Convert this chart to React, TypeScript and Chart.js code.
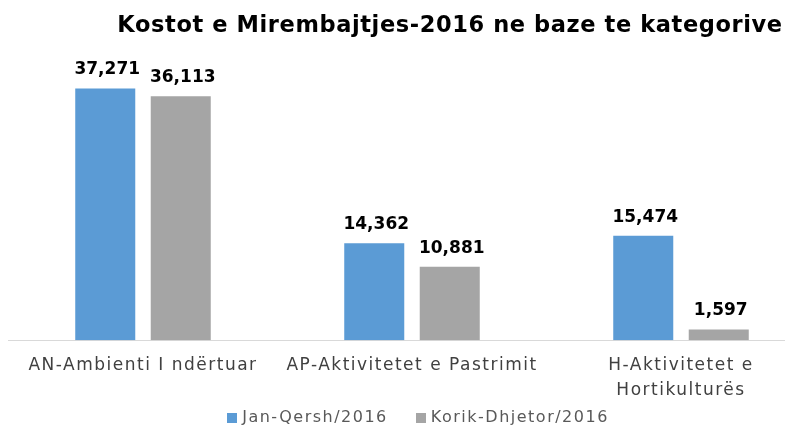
import React, { useEffect, useRef } from 'react';
import { Chart, registerables } from 'chart.js';

Chart.register(...registerables);

const TITLE = 'Kostot e Mirembajtjes-2016 ne baze te kategorive';
const categories: string[][] = [
  ['AN-Ambienti I ndërtuar'],
  ['AP-Aktivitetet e Pastrimit'],
  ['H-Aktivitetet e', 'Hortikulturës'],
];
const seriesNames = ['Jan-Qersh/2016', 'Korik-Dhjetor/2016'];
const janQersh = [37271, 14362, 15474];
const korikDhjetor = [36113, 10881, 1597];
const seriesColors = ['#5B9BD5', '#A5A5A5'];
const yMax = 40000;

const CANVAS_W = 824;
const CANVAS_H = 425;
const TITLE_CX = 450;
const TITLE_BASELINE = 32;
const LEGEND_CX = 418;
const LEGEND_CY = 418;

const spacingPlugin = {
  id: 'letterSpacingWide',
  beforeLayout(chart: any) {
    chart.ctx.letterSpacing = '1.5px';
  },
  beforeDraw(chart: any) {
    chart.ctx.letterSpacing = '1.5px';
  },
};

const titlePlugin = {
  id: 'customTitle',
  afterDraw(chart: any) {
    const ctx = chart.ctx;
    ctx.save();
    ctx.letterSpacing = '0.6px';
    ctx.font = 'bold 22.5px "DejaVu Sans"';
    ctx.fillStyle = '#000000';
    ctx.textAlign = 'center';
    ctx.textBaseline = 'alphabetic';
    ctx.fillText(TITLE, TITLE_CX, TITLE_BASELINE);
    ctx.restore();
  },
};

const legendPlugin = {
  id: 'customLegend',
  afterDraw(chart: any) {
    const ctx = chart.ctx;
    ctx.save();
    ctx.letterSpacing = '1.5px';
    ctx.font = '16px "DejaVu Sans"';
    const box = 10;
    const gapText = 5;
    const gapItems = 28;
    const items = chart.data.datasets.map((ds: any) => ({
      label: ds.label as string,
      color: ds.backgroundColor as string,
      w: ctx.measureText(ds.label).width as number,
    }));
    const total =
      items.reduce((s: number, it: any) => s + box + gapText + it.w, 0) +
      gapItems * (items.length - 1);
    let x = LEGEND_CX - total / 2;
    ctx.textAlign = 'left';
    ctx.textBaseline = 'middle';
    items.forEach((it: any) => {
      ctx.fillStyle = it.color;
      ctx.fillRect(Math.round(x), Math.round(LEGEND_CY - box / 2), box, box);
      ctx.fillStyle = '#595959';
      ctx.fillText(it.label, x + box + gapText, LEGEND_CY);
      x += box + gapText + it.w + gapItems;
    });
    ctx.restore();
  },
};

const valueLabelPlugin = {
  id: 'barValues',
  afterDatasetsDraw(chart: any) {
    const ctx = chart.ctx;
    ctx.save();
    ctx.letterSpacing = '0px';
    ctx.font = 'bold 17px "DejaVu Sans"';
    ctx.fillStyle = '#000000';
    ctx.textAlign = 'center';
    ctx.textBaseline = 'alphabetic';
    chart.data.datasets.forEach((ds: any, i: number) => {
      const meta = chart.getDatasetMeta(i);
      meta.data.forEach((bar: any, j: number) => {
        const v = ds.data[j] as number;
        ctx.fillText(v.toLocaleString('en-US'), bar.x + 2, bar.y - 14);
      });
    });
    ctx.restore();
  },
};

export default function App() {
  const canvasRef = useRef<HTMLCanvasElement | null>(null);

  useEffect(() => {
    const canvas = canvasRef.current;
    if (!canvas) return;
    const chart = new Chart(canvas, {
      type: 'bar',
      data: {
        labels: categories,
        datasets: [
          {
            label: seriesNames[0],
            data: janQersh,
            backgroundColor: seriesColors[0],
            barPercentage: 0.795,
            categoryPercentage: 0.5613,
          },
          {
            label: seriesNames[1],
            data: korikDhjetor,
            backgroundColor: seriesColors[1],
            barPercentage: 0.795,
            categoryPercentage: 0.5613,
          },
        ],
      },
      options: {
        responsive: false,
        devicePixelRatio: 1,
        animation: false,
        layout: { padding: { top: 70, left: 8.5, right: 8.5, bottom: 9.5 } },
        plugins: {
          title: { display: false },
          tooltip: { enabled: false },
          legend: { display: false },
        },
        scales: {
          x: {
            grid: { display: false, drawTicks: false },
            border: { display: true, color: '#D9D9D9', width: 1 },
            ticks: {
              color: '#404040',
              font: { family: 'DejaVu Sans', size: 17, lineHeight: 1.45 },
              padding: 13,
              maxRotation: 0,
              autoSkip: false,
            },
          },
          y: { display: false, min: 0, max: yMax },
        },
      },
      plugins: [spacingPlugin, valueLabelPlugin, titlePlugin, legendPlugin],
    });
    return () => chart.destroy();
  }, []);

  return (
    <div
      style={{
        position: 'fixed',
        left: 0,
        top: 0,
        width: 785,
        height: 425,
        overflow: 'hidden',
        background: '#ffffff',
      }}
    >
      <canvas
        ref={canvasRef}
        width={CANVAS_W}
        height={CANVAS_H}
        style={{ display: 'block', width: CANVAS_W, height: CANVAS_H }}
      />
    </div>
  );
}
